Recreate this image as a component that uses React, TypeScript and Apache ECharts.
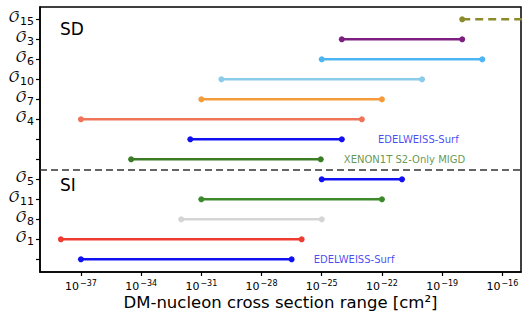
import React, { useEffect, useRef } from 'react';
import * as echarts from 'echarts';

// y rows (0 = bottom). Subscript of the operator label for each row ('' = no label)
const rowSubscripts = ['', '1', '8', '11', '5', '', '', '4', '7', '10', '6', '3', '15'];
const rowValues = [0, 1, 2, 3, 4, 5, 6, 7, 8, 9, 10, 11, 12];
const xTickExponents = [-37, -34, -31, -28, -25, -22, -19, -16];

// ranges: log10 of cross section [cm^2]
const rangeNames = ['O15', 'O3', 'O6', 'O10', 'O7', 'O4', 'EDELWEISS SD', 'XENON1T SD', 'O5', 'O11', 'O8', 'O1', 'EDELWEISS SI'];
const rangeRows = [12, 11, 10, 9, 8, 7, 6, 5, 4, 3, 2, 1, 0];
const rangeLow = [-18, -24, -25, -30, -31, -37, -31.55, -34.5, -25, -31, -32, -38, -37];
const rangeHigh = [-14, -18, -17, -20, -22, -23, -24, -25.05, -21, -22, -25, -26, -26.5];
const rangeColors = ['#8b8b2e', '#7d1f80', '#4db5f3', '#8ccbea', '#f59b3c', '#ef7459', '#1010f2', '#3b7d25', '#1010f2', '#3d8a2c', '#d5d5d5', '#ef3b30', '#1010f2'];
const rangeDashed = [true, false, false, false, false, false, false, false, false, false, false, false, false];

const noteTexts = ['EDELWEISS-Surf', 'XENON1T S2-Only MIGD', 'EDELWEISS-Surf'];
const noteX = [-22.2, -23.9, -25.4];
const noteY = [6, 5, 0];
const noteColors = ['#1a1af0', '#3b7d25', '#1a1af0'];

const separatorY = 4.5;

const FONT = 'DejaVu Sans';

export default function App() {
  const ref = useRef<HTMLDivElement>(null);
  useEffect(() => {
    const chart = echarts.init(ref.current!, null, { renderer: 'svg' });
    const series: any[] = rangeNames.map((name, i) => ({
      type: 'line',
      name,
      data: [
        { value: [rangeLow[i], rangeRows[i]] },
        { value: [rangeHigh[i], rangeRows[i]], symbol: rangeDashed[i] ? 'none' : 'circle' },
      ],
      symbol: 'circle',
      symbolSize: 6,
      showSymbol: true,
      clip: true,
      itemStyle: { color: rangeColors[i] },
      lineStyle: { color: rangeColors[i], width: 2.6, type: rangeDashed[i] ? [8, 5] : 'solid' },
      silent: true,
    }));
    series.push({
      type: 'scatter',
      data: noteTexts.map((t, i) => ({
        value: [noteX[i], noteY[i]],
        label: { show: true, formatter: t, color: noteColors[i] },
      })),
      symbolSize: 0,
      label: { show: true, position: 'right', distance: 0, fontFamily: FONT, fontSize: 10 },
      markLine: {
        silent: true,
        symbol: ['none', 'none'],
        label: { show: false },
        lineStyle: { color: '#333', width: 1.5, type: [7, 4] },
        data: [{ yAxis: separatorY }],
      },
      silent: true,
    });
    chart.setOption({
      animation: false,
      backgroundColor: '#fff',
      grid: {
        left: 40, right: 1, top: 7, bottom: 41,
        containLabel: false, outerBoundsMode: 'none',
        show: true, borderColor: '#000', borderWidth: 1.5, backgroundColor: 'transparent',
      },
      xAxis: {
        type: 'value',
        min: -39.04,
        max: -15.07,
        name: 'DM-nucleon cross section range [cm²]',
        nameLocation: 'middle',
        nameGap: 22,
        nameMoveOverlap: false,
        nameTextStyle: { fontFamily: FONT, fontSize: 16.5, color: '#000' },
        axisLine: { show: true, onZero: false, lineStyle: { color: '#000', width: 1.5 } },
        axisTick: { show: true, length: 4, lineStyle: { color: '#000', width: 1.2 }, customValues: xTickExponents },
        splitLine: { show: false },
        axisLabel: {
          customValues: xTickExponents,
          margin: 7,
          formatter: (v: number) => `{b|10}{s|\u2212${Math.abs(Math.round(v))}}`,
          rich: {
            b: { fontFamily: FONT, fontSize: 11, lineHeight: 12, color: '#000', padding: [2, 0, 0, 0] },
            s: { fontFamily: FONT, fontSize: 8, lineHeight: 9, color: '#000', padding: [0, 0, 4, 1] },
          },
        },
      },
      yAxis: {
        type: 'value',
        min: -0.635,
        max: 12.615,
        axisLine: { show: true, onZero: false, lineStyle: { color: '#000', width: 1.5 } },
        axisTick: { show: true, length: 4, lineStyle: { color: '#000', width: 1.2 }, customValues: rowValues },
        splitLine: { show: false },
        axisLabel: {
          customValues: rowValues,
          margin: 6,
          formatter: (v: number) => {
            const s = rowSubscripts[Math.round(v)];
            return s ? `{o|\u{1D4AA}}{s|${s}}` : '';
          },
          rich: {
            o: { fontFamily: 'DejaVu Math TeX Gyre, DejaVu Serif, serif', fontSize: 15, color: '#000', padding: [0, 0, 3, 0] },
            s: { fontFamily: FONT, fontSize: 11, color: '#000', padding: [5, 0, 0, 0] },
          },
        },
      },
      graphic: [
        { type: 'text', left: 60, top: 20, style: { text: 'SD', fontFamily: FONT, fontSize: 17, fill: '#000' } },
        { type: 'text', left: 60, top: 176, style: { text: 'SI', fontFamily: FONT, fontSize: 17, fill: '#000' } },
      ],
      series,
    });
    return () => chart.dispose();
  }, []);
  return <div ref={ref} style={{ position: 'fixed', left: 0, top: 0, width: 522, height: 313 }} />;
}
